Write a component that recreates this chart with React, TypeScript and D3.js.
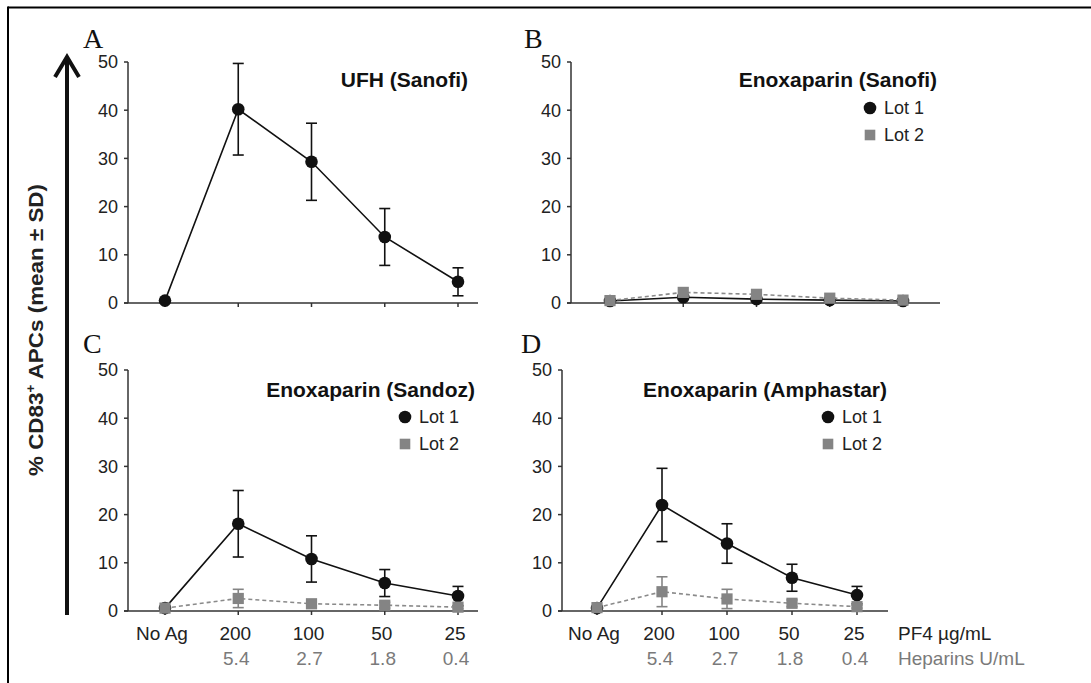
import React from "react";
import * as d3 from "d3";

const categories = ["No Ag", "200", "100", "50", "25"];
const heparinLabels = ["", "5.4", "2.7", "1.8", "0.4"];
const yTicks = [0, 10, 20, 30, 40, 50];

const ufhMean = [0.5, 40.2, 29.3, 13.7, 4.4];
const ufhSD = [0, 9.5, 8.0, 5.9, 2.9];

const sanofiLot1Mean = [0.4, 1.2, 0.8, 0.6, 0.4];
const sanofiLot1SD = [0, 0, 0, 0, 0];
const sanofiLot2Mean = [0.5, 2.2, 1.8, 1.0, 0.6];
const sanofiLot2SD = [0, 0, 0, 0, 0];

const sandozLot1Mean = [0.6, 18.1, 10.8, 5.8, 3.1];
const sandozLot1SD = [0, 6.9, 4.8, 2.8, 2.0];
const sandozLot2Mean = [0.6, 2.6, 1.5, 1.2, 0.8];
const sandozLot2SD = [0, 1.9, 0.6, 0.6, 0.3];

const amphLot1Mean = [0.6, 22.0, 14.0, 6.9, 3.3];
const amphLot1SD = [0, 7.6, 4.1, 2.8, 1.8];
const amphLot2Mean = [0.7, 4.0, 2.5, 1.6, 0.9];
const amphLot2SD = [0, 3.1, 2.0, 0.7, 0.3];

type Series = { mean: number[]; sd: number[]; kind: "lot1" | "lot2" };

type Panel = {
  letter: string;
  title: string;
  axisX: number;
  topY: number;
  bottomY: number;
  firstX: number;
  lastX: number;
  endX: number;
  titleRight: number;
  titleY: number;
  legend: { x: number; y: number } | null;
  series: Series[];
  xLabels: boolean;
  units: boolean;
  letterX: number;
  letterY: number;
};

const panels: Panel[] = [
  {
    letter: "A", title: "UFH (Sanofi)",
    axisX: 128, topY: 62, bottomY: 303, firstX: 165, lastX: 458, endX: 478,
    titleRight: 468, titleY: 87, legend: null,
    series: [{ mean: ufhMean, sd: ufhSD, kind: "lot1" }],
    xLabels: false, units: false, letterX: 83, letterY: 48,
  },
  {
    letter: "B", title: "Enoxaparin (Sanofi)",
    axisX: 571, topY: 62, bottomY: 303, firstX: 610, lastX: 903, endX: 940,
    titleRight: 937, titleY: 87, legend: { x: 870, y: 108 },
    series: [
      { mean: sanofiLot1Mean, sd: sanofiLot1SD, kind: "lot1" },
      { mean: sanofiLot2Mean, sd: sanofiLot2SD, kind: "lot2" },
    ],
    xLabels: false, units: false, letterX: 524, letterY: 48,
  },
  {
    letter: "C", title: "Enoxaparin (Sandoz)",
    axisX: 128, topY: 370, bottomY: 611, firstX: 165, lastX: 458, endX: 478,
    titleRight: 475, titleY: 397, legend: { x: 405, y: 417 },
    series: [
      { mean: sandozLot1Mean, sd: sandozLot1SD, kind: "lot1" },
      { mean: sandozLot2Mean, sd: sandozLot2SD, kind: "lot2" },
    ],
    xLabels: true, units: false, letterX: 83, letterY: 353,
  },
  {
    letter: "D", title: "Enoxaparin (Amphastar)",
    axisX: 562, topY: 370, bottomY: 611, firstX: 597, lastX: 857, endX: 888,
    titleRight: 887, titleY: 397, legend: { x: 828, y: 417 },
    series: [
      { mean: amphLot1Mean, sd: amphLot1SD, kind: "lot1" },
      { mean: amphLot2Mean, sd: amphLot2SD, kind: "lot2" },
    ],
    xLabels: true, units: true, letterX: 521, letterY: 353,
  },
];

const SANS = "'Liberation Sans', Arial, Helvetica, sans-serif";
const SERIF = "'Liberation Serif', 'Times New Roman', serif";
const GRAY = "#848484";
const AXIS = "#333";

function PanelView({ p }: { p: Panel }) {
  const x = d3.scalePoint<string>().domain(categories).range([p.firstX, p.lastX]);
  const y = d3.scaleLinear().domain([0, 50]).range([p.bottomY, p.topY]);
  const line = d3
    .line<number>()
    .x((_, i) => x(categories[i]) as number)
    .y((d) => y(d));
  const cap = 5.5;

  return (
    <g>
      <text x={p.letterX} y={p.letterY} fontFamily={SERIF} fontSize={28} fill="#111">
        {p.letter}
      </text>
      {/* y axis */}
      <line x1={p.axisX} x2={p.axisX} y1={p.topY} y2={p.bottomY} stroke={AXIS} strokeWidth={1.5} />
      {yTicks.map((t) => (
        <g key={t}>
          <line x1={p.axisX - 4} x2={p.axisX} y1={y(t)} y2={y(t)} stroke={AXIS} strokeWidth={1.5} />
          <text x={p.axisX - 10} y={y(t)} dy="0.36em" textAnchor="end" fontFamily={SANS} fontSize={18} fill="#222">
            {t}
          </text>
        </g>
      ))}
      {/* x axis */}
      <line x1={p.axisX - 4} x2={p.endX} y1={p.bottomY} y2={p.bottomY} stroke={AXIS} strokeWidth={1.5} />
      {categories.map((c) => (
        <line key={c} x1={x(c)} x2={x(c)} y1={p.bottomY} y2={p.bottomY + 4} stroke={AXIS} strokeWidth={1.5} />
      ))}
      {p.xLabels &&
        categories.map((c, i) => (
          <g key={"l" + c}>
            <text x={(x(c) as number) - 3} y={p.bottomY + 29} textAnchor="middle" fontFamily={SANS} fontSize={19} fill="#222">
              {c}
            </text>
            <text x={(x(c) as number) - 2} y={p.bottomY + 54} textAnchor="middle" fontFamily={SANS} fontSize={19} fill="#7a7a7a">
              {heparinLabels[i]}
            </text>
          </g>
        ))}
      {p.units && (
        <g>
          <text x={898} y={p.bottomY + 29} fontFamily={SANS} fontSize={19} fill="#222">
            PF4 µg/mL
          </text>
          <text x={898} y={p.bottomY + 54} fontFamily={SANS} fontSize={19} fill="#7a7a7a">
            Heparins U/mL
          </text>
        </g>
      )}
      {/* series */}
      {p.series.map((s, si) => {
        const color = s.kind === "lot1" ? "#111" : GRAY;
        return (
          <g key={si}>
            <path
              d={line(s.mean) as string}
              fill="none"
              stroke={s.kind === "lot1" ? "#111" : "#8a8a8a"}
              strokeWidth={1.6}
              strokeDasharray={s.kind === "lot2" ? "4,3" : undefined}
            />
            {s.mean.map((m, i) => {
              const sd = s.sd[i];
              if (!sd) return null;
              const cx = x(categories[i]) as number;
              return (
                <g key={"e" + i} stroke={color} strokeWidth={1.6}>
                  <line x1={cx} x2={cx} y1={y(m - sd)} y2={y(m + sd)} />
                  <line x1={cx - cap} x2={cx + cap} y1={y(m + sd)} y2={y(m + sd)} />
                  <line x1={cx - cap} x2={cx + cap} y1={y(m - sd)} y2={y(m - sd)} />
                </g>
              );
            })}
            {s.mean.map((m, i) => {
              const cx = x(categories[i]) as number;
              return s.kind === "lot1" ? (
                <circle key={"m" + i} cx={cx} cy={y(m)} r={6.3} fill="#111" />
              ) : (
                <rect key={"m" + i} x={cx - 5.6} y={y(m) - 5.6} width={11.2} height={11.2} fill={GRAY} />
              );
            })}
          </g>
        );
      })}
      {/* title */}
      <text x={p.titleRight} y={p.titleY} textAnchor="end" fontFamily={SANS} fontWeight="bold" fontSize={21} fill="#111">
        {p.title}
      </text>
      {p.legend && (
        <g>
          <circle cx={p.legend.x} cy={p.legend.y} r={6.3} fill="#111" />
          <text x={p.legend.x + 14} y={p.legend.y} dy="0.36em" fontFamily={SANS} fontSize={18} fill="#222">
            Lot 1
          </text>
          <rect x={p.legend.x - 5.3} y={p.legend.y + 27 - 5.3} width={10.6} height={10.6} fill={GRAY} />
          <text x={p.legend.x + 14} y={p.legend.y + 27} dy="0.36em" fontFamily={SANS} fontSize={18} fill="#222">
            Lot 2
          </text>
        </g>
      )}
    </g>
  );
}

export default function App() {
  return (
    <svg
      width={1091}
      height={683}
      style={{ position: "absolute", left: 0, top: 0, background: "#fff" }}
    >
      <rect x={0} y={0} width={1091} height={683} fill="#fff" />
      {/* frame */}
      <line x1={8} x2={1091} y1={7.5} y2={7.5} stroke="#000" strokeWidth={2} />
      <line x1={8} x2={8} y1={6.5} y2={683} stroke="#000" strokeWidth={2} />
      {/* arrow */}
      <line x1={67} x2={67} y1={615} y2={57} stroke="#111" strokeWidth={4} />
      <polyline points="55,77 67,57 79,77" fill="none" stroke="#111" strokeWidth={4} strokeLinejoin="miter" />
      <text
        transform="translate(43,330) rotate(-90)"
        textAnchor="middle"
        fontFamily={SANS}
        fontWeight="bold"
        fontSize={20}
        fill="#222"
        textLength={292}
        lengthAdjust="spacingAndGlyphs"
      >
        % CD83
        <tspan fontSize={12} dy={-8}>+</tspan>
        <tspan dy={8}> APCs (mean ± SD)</tspan>
      </text>
      {panels.map((p) => (
        <PanelView key={p.letter} p={p} />
      ))}
    </svg>
  );
}
